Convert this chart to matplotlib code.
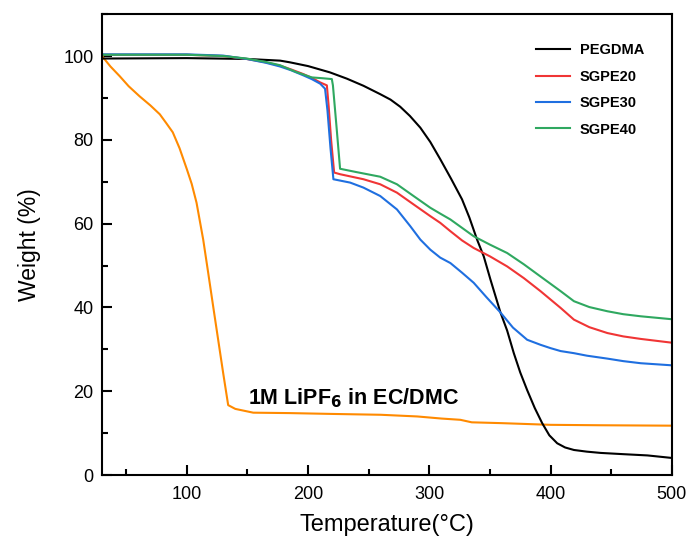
import matplotlib
matplotlib.use("Agg")
import matplotlib.pyplot as plt
from matplotlib.ticker import MultipleLocator

plt.rcParams['font.family'] = ['Liberation Sans', 'DejaVu Sans']

# PEGDMA
t_peg = [30, 100, 150, 177, 185, 200, 218, 232, 245.7, 259.5, 268, 276, 284, 292.6, 300.8, 309, 318, 327, 333, 339.4, 344.9,
         350.4, 358.7, 364.2, 369.7, 375, 380.7, 387, 393.1, 399, 405.5, 412, 419.3, 430, 441.3, 460, 480, 500]
w_peg = [99.4, 99.5, 99.3, 98.9, 98.5, 97.6, 96.1, 94.6, 92.9, 90.9, 89.6, 87.9, 85.7, 82.9, 79.5, 75.4, 70.7, 65.8, 61.5, 56.2, 52.2,
         46.7, 38.8, 34.5, 29.1, 24.5, 20.3, 16.0, 12.4, 9.5, 7.6, 6.6, 6.0, 5.6, 5.3, 5.0, 4.7, 4.1]

# SGPE20
t_20 = [30, 100, 130, 149.3, 165, 176.9, 186, 196, 203, 210, 215.5, 217, 219, 221.5, 226.4, 245.7, 259.5, 273.3,
        287, 300.8, 309, 317.4, 327, 336.6, 350, 364.2, 378, 391.7, 408.3, 419.3, 432, 446.9, 460, 474.4, 500]
w_20 = [100.3, 100.3, 100.0, 99.3, 98.5, 97.7, 96.8, 95.7, 94.8, 93.7, 93.0, 88.0, 80.0, 72.2, 71.8, 70.6, 69.4, 67.4,
        64.6, 61.8, 60.2, 58.2, 56.0, 54.2, 52.2, 49.8, 47.0, 43.9, 39.9, 37.1, 35.3, 33.9, 33.1, 32.5, 31.6]

# SGPE30
t_30 = [30, 100, 130, 149.3, 165, 176.9, 186, 196, 203, 210, 214, 216, 218.5, 220.9, 234.7, 245.7, 259.5, 273.3,
        284.3, 292.6, 300.8, 309, 317.4, 327, 336.6, 347, 358.7, 369, 380.7, 391.7, 400, 408.3, 419.3, 430, 446.9,
        460, 474.4, 500]
w_30 = [100.4, 100.4, 100.1, 99.3, 98.4, 97.5, 96.6, 95.4, 94.5, 93.4, 92.2, 87.0, 78.0, 70.6, 69.8, 68.6, 66.6, 63.4,
        59.4, 56.2, 53.8, 51.9, 50.6, 48.3, 45.9, 42.5, 38.8, 35.2, 32.3, 31.1, 30.3, 29.6, 29.1, 28.5, 27.8,
        27.2, 26.7, 26.2]

# SGPE40
t_40 = [30, 100, 130, 149.3, 165, 176.9, 190, 203, 212, 219.6, 220.5, 223.5, 226.4, 240, 259.5, 273.3, 287, 300.8,
        309, 317.4, 327, 336.6, 350, 364.2, 378, 391.7, 408.3, 419.3, 432, 446.9, 460, 474.4, 500]
w_40 = [100.3, 100.3, 100.0, 99.4, 98.6, 97.8, 96.2, 94.9, 94.7, 94.5, 93.0, 83.0, 73.1, 72.3, 71.2, 69.4, 66.6, 63.8,
        62.4, 61.0, 59.0, 57.0, 55.0, 53.0, 50.3, 47.4, 43.9, 41.5, 40.1, 39.1, 38.4, 37.9, 37.2]

# 1M LiPF6 in EC/DMC
t_li = [30, 37, 44.6, 52, 61, 70, 77.7, 83, 88.4, 94, 100, 104, 108, 113.5, 117.5, 121.7, 126, 130, 134.1, 140,
        154.8, 185, 220, 260, 290, 310, 325.6, 335, 360, 400, 441, 500]
w_li = [100, 97.5, 95.2, 92.8, 90.4, 88.2, 86.1, 84.0, 81.8, 78.0, 73.0, 69.5, 65.0, 56.2, 48.5, 40.3, 32.0, 24.3, 16.7, 15.8,
        14.9, 14.8, 14.6, 14.4, 14.0, 13.5, 13.2, 12.6, 12.4, 12.0, 11.9, 11.8]

series = [
    (t_peg, w_peg, "PEGDMA", "#000000"),
    (t_20, w_20, "SGPE20", "#f03535"),
    (t_30, w_30, "SGPE30", "#1f6fe0"),
    (t_40, w_40, "SGPE40", "#2fa860"),
]

fig = plt.figure(figsize=(6.89, 5.43), dpi=100)
ax = fig.add_axes([0.148, 0.125, 0.827, 0.849])

ax.plot(t_li, w_li, color="#ff8a00", lw=1.5)
for t, w, lab, c in series:
    ax.plot(t, w, color=c, lw=1.5, label=lab)

ax.set_xlim(30, 500)
ax.set_ylim(0, 110)
ax.xaxis.set_major_locator(MultipleLocator(100))
ax.xaxis.set_minor_locator(MultipleLocator(50))
ax.yaxis.set_major_locator(MultipleLocator(20))
ax.yaxis.set_minor_locator(MultipleLocator(10))
ax.tick_params(which="both", direction="in", width=1.5, labelsize=13, top=False, right=False)
ax.tick_params(which="major", length=7)
ax.tick_params(which="minor", length=4)
ax.tick_params(axis="x", pad=8)
ax.tick_params(axis="y", pad=6)
for s in ax.spines.values():
    s.set_linewidth(1.5)

ax.set_xlabel("Temperature(°C)", fontsize=17, labelpad=8)
ax.set_ylabel("Weight (%)", fontsize=16.5, labelpad=16)

ax.text(150.5, 18.4, "1M LiPF$_\\mathbf{6}$ in EC/DMC", fontsize=15.5, fontweight="bold", va="center", ha="left")

leg = ax.legend(loc="upper right", frameon=False, prop={"weight": "bold", "size": 10.5},
                handlelength=2.3, handletextpad=0.7, labelspacing=0.85, bbox_to_anchor=(0.975, 0.965))

fig.savefig("out.png", dpi=100)
